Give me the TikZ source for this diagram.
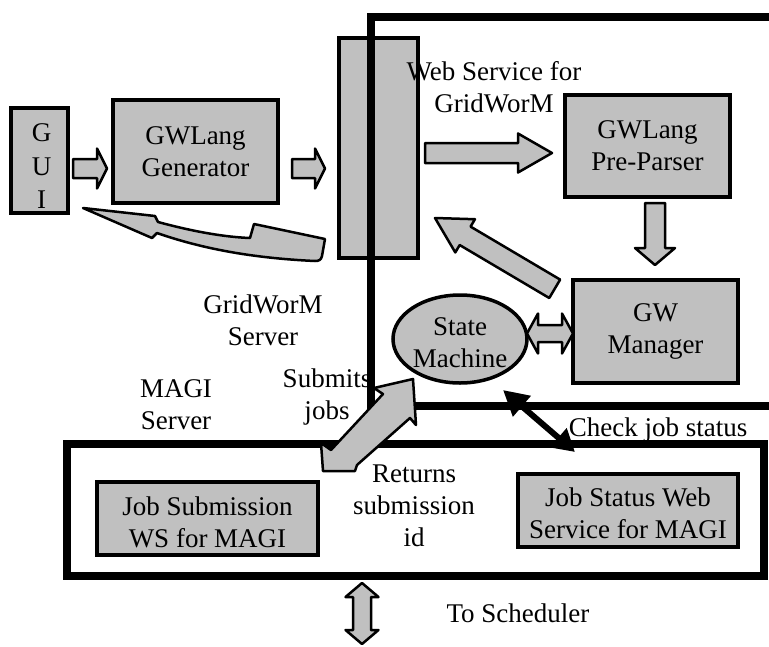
\documentclass[tikz,border=0pt]{standalone}
\usepackage{fontspec}
\setmainfont{Liberation Serif}
\usetikzlibrary{calc,shapes.geometric,arrows.meta}
\definecolor{boxgray}{RGB}{192,192,192}
\tikzset{
  txt/.style={font=\fontsize{27}{32}\selectfont, align=center, inner sep=0pt},
  graybox/.style={draw=black, line width=3.5pt, fill=boxgray, inner sep=0pt, txt},
  blockarrow/.style={draw=black, line width=2.5pt, fill=boxgray, line join=round},
  frameline/.style={draw=black, line width=8.5pt, line join=miter},
}
% block arrow: tail, tip, shaft half width, head half width, head length
\newcommand\blockarr[5]{%
  \path ($(#2)!#5!(#1)$) coordinate (bh);
  \draw[blockarrow] ($(#1)!#3!90:(#2)$) -- ($(bh)!#3!90:(#2)$) -- ($(bh)!#4!90:(#2)$) -- (#2)
    -- ($(bh)!#4!-90:(#2)$) -- ($(bh)!#3!-90:(#2)$) -- ($(#1)!#3!-90:(#2)$) -- cycle;}
% double block arrow: end A, end B, shaft half width, head half width, head length
\newcommand\dblarr[5]{%
  \path ($(#1)!#5!(#2)$) coordinate (ha) ($(#2)!#5!(#1)$) coordinate (hb);
  \draw[blockarrow] (#1) -- ($(ha)!#4!90:(#2)$) -- ($(ha)!#3!90:(#2)$) -- ($(hb)!#3!90:(#2)$)
    -- ($(hb)!#4!90:(#2)$) -- (#2) -- ($(hb)!#4!-90:(#2)$) -- ($(hb)!#3!-90:(#2)$)
    -- ($(ha)!#3!-90:(#2)$) -- ($(ha)!#4!-90:(#2)$) -- cycle;}
\begin{document}
\begin{tikzpicture}[x=1pt,y=-1pt]
\useasboundingbox (0,0) rectangle (769,646);
\clip (0,0) rectangle (769,646);

% web service column
\node[graybox, minimum width=79pt, minimum height=220pt] (ws) at (378.5,148) {};

% server frames
\draw[frameline] (785,17) -- (371,17) -- (371,406) -- (785,406);
\draw[frameline, line width=8pt] (67,444) rectangle (764,576);

% boxes
\node[graybox, minimum width=57pt, minimum height=105pt] (gui) at (39.5,160.5) {};
\node[txt, font=\fontsize{27}{33.5}\selectfont] (guit) at ($(gui.center)+(2,6)$) {G\\U\\I};
\node[graybox, minimum width=165pt, minimum height=103pt] (gen) at (195.5,151.5) {GWLang\\Generator};
\node[graybox, minimum width=165pt, minimum height=102pt] (pre) at (647.5,146) {GWLang\\Pre-Parser};
\node[graybox, minimum width=165pt, minimum height=103pt] (gwm) at (655.5,331.5) {GW\\Manager};
\node[graybox, ellipse, minimum width=134pt, minimum height=88pt] (sm) at (460,339) {};
\node[txt] (smt) at ($(sm.center)+(0,4)$) {State\\Machine};
\node[graybox, minimum width=221pt, minimum height=73pt] (jsub) at (207.5,518.5) {};
\node[txt] (jsubt) at ($(jsub.center)+(0,4)$) {Job Submission\\WS for MAGI};
\node[graybox, minimum width=220pt, minimum height=73pt] (jstat) at (628,510.5) {};
\node[txt] (jstatt) at ($(jstat.center)+(0,3)$) {Job Status Web\\Service for MAGI};

% block arrows
\coordinate (a1t) at (73,168.5);   \coordinate (a1h) at (107,168.5);
\blockarr{a1t}{a1h}{9.5pt}{20pt}{10pt}
\coordinate (a2t) at (292,168.5);  \coordinate (a2h) at (325,168.5);
\blockarr{a2t}{a2h}{9.5pt}{20pt}{10pt}
\coordinate (a3t) at (425,153);    \coordinate (a3h) at (552,153);
\blockarr{a3t}{a3h}{10pt}{19.5pt}{34pt}
\coordinate (a4t) at (655,203);    \coordinate (a4h) at (655,265);
\blockarr{a4t}{a4h}{10pt}{20pt}{17pt}
\coordinate (a5t) at (554.7,288.8); \coordinate (a5h) at (435,218);
\blockarr{a5t}{a5h}{10.7pt}{19.3pt}{35pt}
\coordinate (a6a) at (527,333.5);  \coordinate (a6b) at (573,333.5);
\dblarr{a6a}{a6b}{8.5pt}{20pt}{11pt}
\coordinate (a7a) at (362,583);    \coordinate (a7b) at (362,644);
\dblarr{a7a}{a7b}{9pt}{16.5pt}{14pt}

% curved return arrow to GUI
\draw[blockarrow] (83,208) -- (155,216) -- (158,222) .. controls (195,232) and (225,237) .. (250,238)
  -- (254,224) -- (325,239) -- (322,256) .. controls (321,260) and (319,261) .. (315,261)
  .. controls (250,258) and (200,248) .. (157,233) -- (152,238) -- cycle;

% submits jobs / returns id
\draw[blockarrow] (323,471) -- (321,443) -- (331,450) -- (383,394) -- (374,388) -- (413,379)
  -- (416,425) -- (410,418) -- (357,465) -- (355,471) -- cycle;

% check job status
\coordinate (c1) at (503,390); \coordinate (c2) at (575,452);
\draw[line width=6pt, {Triangle[length=25pt,width=26pt]}-{Triangle[length=22pt,width=24pt]}] (c1) -- (c2);

% labels
\node[txt] (lws) at (494,87) {Web Service for\\GridWorM};
\node[txt] (lgs) at (263,320) {GridWorM\\Server};
\node[txt] (lmagi) at (176,405) {MAGI\\Server};
\node[txt] (lsub) at (327,397) {Submits\\jobs};
\node[txt] (lret) at (414,506) {Returns\\submission\\id};
\node[txt] (lchk) at (658,430) {Check job status};
\node[txt] (lsch) at (518,613) {To Scheduler};
\end{tikzpicture}
\end{document}
